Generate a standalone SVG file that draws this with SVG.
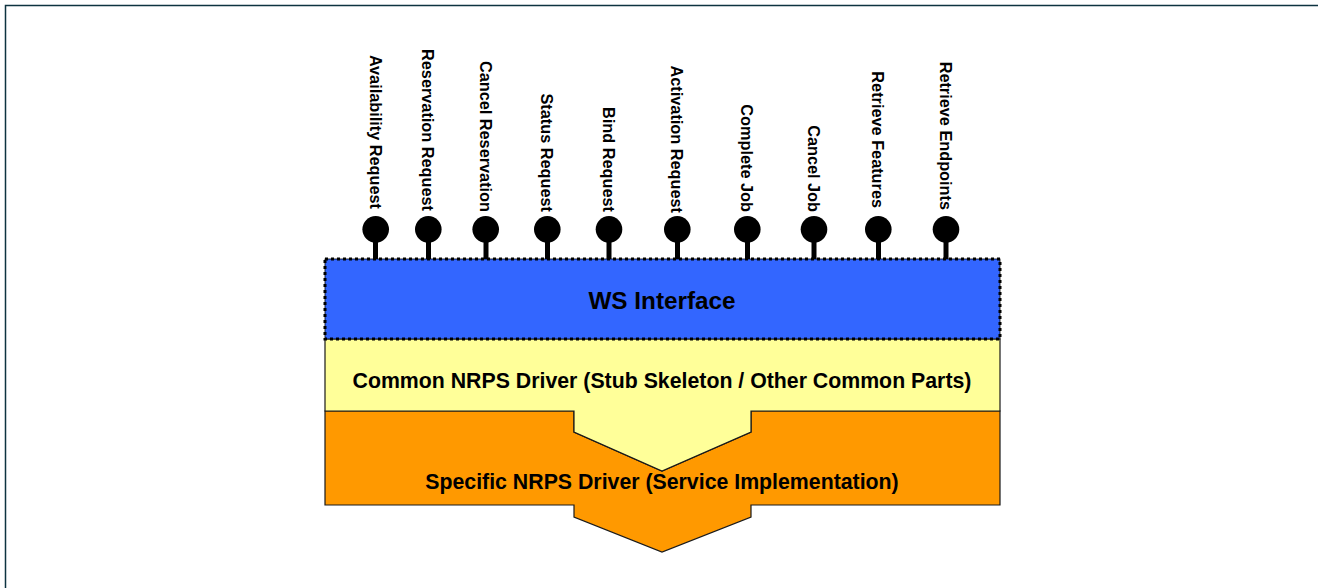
<svg xmlns="http://www.w3.org/2000/svg" width="1318" height="588" viewBox="0 0 1318 588">
<style>
.lbl{font-family:"Liberation Sans",Arial,sans-serif;font-weight:bold;font-size:16.3px;fill:#000}
.big{font-family:"Liberation Sans",Arial,sans-serif;font-weight:bold;fill:#000;text-anchor:middle}
.stem{stroke:#000;stroke-width:5}
.ball{fill:#000}
.edge{stroke:#1a1a1a;stroke-width:1.2}
</style>
<rect width="1318" height="588" fill="#fff"/>
<path d="M5.5 588 V5.5 H1318" fill="none" stroke="#0d3340" stroke-width="1.5"/>

<g id="specific">
<polygon class="edge" fill="#FF9900" points="325,411 574,411 574,432 662,471 751,432 751,411 1000,411 1000,505 751,505 751,517 662,552 574,517 574,505 325,505"/>
<text class="big" x="662" y="489" font-size="21.3">Specific NRPS Driver (Service Implementation)</text>
</g>

<g id="common">
<polygon class="edge" fill="#FFFF99" points="325,339 1000,339 1000,411 751,411 751,432 662,471 574,432 574,411 325,411"/>
<text class="big" x="662" y="388" font-size="21.3">Common NRPS Driver (Stub Skeleton / Other Common Parts)</text>
</g>

<g id="ws">
<rect x="325" y="259" width="675" height="80" fill="#3366FF" stroke="#000" stroke-width="0.8"/>
<rect x="325" y="259" width="675" height="80" fill="none" stroke="#000" stroke-width="3" stroke-dasharray="3 3"/>
<text class="big" x="662" y="309" font-size="24.3">WS Interface</text>
</g>

<g id="connectors">
<line class="stem" x1="375.5" y1="235" x2="375.5" y2="259"/>
<line class="stem" x1="428.5" y1="235" x2="428.5" y2="259"/>
<line class="stem" x1="486" y1="235" x2="486" y2="259"/>
<line class="stem" x1="547.5" y1="235" x2="547.5" y2="259"/>
<line class="stem" x1="609" y1="235" x2="609" y2="259"/>
<line class="stem" x1="677.5" y1="235" x2="677.5" y2="259"/>
<line class="stem" x1="747.5" y1="235" x2="747.5" y2="259"/>
<line class="stem" x1="814" y1="235" x2="814" y2="259"/>
<line class="stem" x1="878.5" y1="235" x2="878.5" y2="259"/>
<line class="stem" x1="946" y1="235" x2="946" y2="259"/>
</g>

<g id="op-availability"><circle class="ball" cx="375.7" cy="229.3" r="13.3"/><text class="lbl" transform="translate(369.5,209) rotate(90)" text-anchor="end">Availability Request</text></g>
<g id="op-reservation"><circle class="ball" cx="428.3" cy="229.3" r="13.3"/><text class="lbl" transform="translate(422.3,211) rotate(90)" text-anchor="end">Reservation Request</text></g>
<g id="op-cancel-reservation"><circle class="ball" cx="485.7" cy="229.3" r="13.3"/><text class="lbl" transform="translate(479.7,212) rotate(90)" text-anchor="end">Cancel Reservation</text></g>
<g id="op-status"><circle class="ball" cx="547.3" cy="229.3" r="13.3"/><text class="lbl" transform="translate(541.3,212) rotate(90)" text-anchor="end">Status Request</text></g>
<g id="op-bind"><circle class="ball" cx="609" cy="229.3" r="13.3"/><text class="lbl" transform="translate(603,212) rotate(90)" text-anchor="end">Bind Request</text></g>
<g id="op-activation"><circle class="ball" cx="677.3" cy="229.3" r="13.3"/><text class="lbl" transform="translate(671.3,213) rotate(90)" text-anchor="end">Activation Request</text></g>
<g id="op-complete-job"><circle class="ball" cx="747.3" cy="229.3" r="13.3"/><text class="lbl" transform="translate(741.3,212) rotate(90)" text-anchor="end">Complete Job</text></g>
<g id="op-cancel-job"><circle class="ball" cx="814" cy="229.3" r="13.3"/><text class="lbl" transform="translate(808,212) rotate(90)" text-anchor="end">Cancel Job</text></g>
<g id="op-retrieve-features"><circle class="ball" cx="878.3" cy="229.3" r="13.3"/><text class="lbl" transform="translate(872.3,208) rotate(90)" text-anchor="end">Retrieve Features</text></g>
<g id="op-retrieve-endpoints"><circle class="ball" cx="946" cy="229.3" r="13.3"/><text class="lbl" transform="translate(940,210) rotate(90)" text-anchor="end">Retrieve Endpoints</text></g>
</svg>
